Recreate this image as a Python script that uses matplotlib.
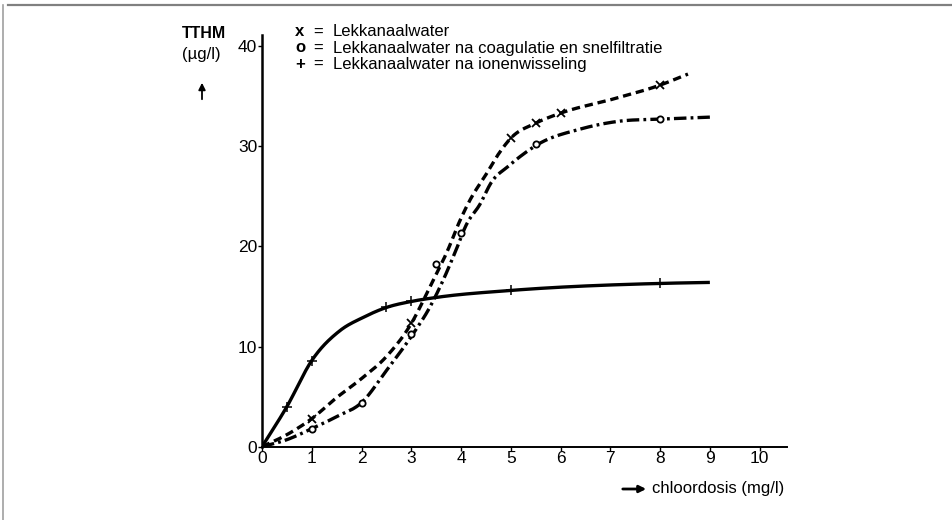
import numpy as np
import matplotlib
matplotlib.use("Agg")
import matplotlib.pyplot as plt
from matplotlib.lines import Line2D
from matplotlib.patches import FancyArrowPatch

plt.rcParams['font.family'] = ['Liberation Sans', 'DejaVu Sans']
plt.rcParams['lines.scale_dashes'] = False

# --- measured points (chlorine dose mg/l -> TTHM ug/l) ---
raw_dose = [1, 3, 5, 5.5, 6, 8]
raw_tthm = [2.8, 12.3, 30.8, 32.3, 33.3, 36.1]

coag_dose = [1, 2, 3, 3.5, 4, 5.5, 8]
coag_tthm = [1.8, 4.4, 11.3, 18.2, 21.3, 30.2, 32.7]

ion_dose = [0.5, 1, 2.5, 3, 5, 8]
ion_tthm = [4.0, 8.6, 13.9, 14.5, 15.6, 16.3]

# --- fitted curves through the measurements ---
raw_curve_dose = [0, 0.5, 1, 1.5, 2, 2.5, 3.0, 3.37, 3.74, 3.98, 4.21, 4.48, 4.75, 5.0, 5.5, 6.0, 7.05, 8.0, 8.56]
raw_curve_tthm = [0, 1.2, 2.8, 4.9, 6.8, 9.0, 12.3, 15.9, 19.7, 22.6, 24.9, 27.0, 29.2, 30.8, 32.3, 33.3, 34.7, 36.1, 37.2]

coag_curve_dose = [0, 0.5, 1, 1.5, 2, 2.5, 3.04, 3.37, 3.61, 3.88, 4.11, 4.38, 4.61, 4.95, 5.25, 5.55, 6.39, 7.19, 8.0, 9.0]
coag_curve_tthm = [0, 0.7, 1.8, 3.0, 4.4, 7.6, 11.3, 13.9, 16.3, 19.4, 22.2, 24.2, 26.4, 28.0, 29.2, 30.2, 31.7, 32.5, 32.7, 32.9]

ion_curve_dose = [0, 0.5, 1, 1.57, 2.03, 2.5, 3, 3.5, 5, 8, 9]
ion_curve_tthm = [0, 4.0, 8.6, 11.6, 12.9, 13.9, 14.5, 14.9, 15.6, 16.3, 16.4]

x_ticks = [0, 1, 2, 3, 4, 5, 6, 7, 8, 9, 10]
y_ticks = [0, 10, 20, 30, 40]

legend_entries = [
    ("x", "Lekkanaalwater"),
    ("o", "Lekkanaalwater na coagulatie en snelfiltratie"),
    ("+", "Lekkanaalwater na ionenwisseling"),
]


def smooth(xs, ys, n=400):
    """Cubic Hermite curve with three-point (parabolic) slopes."""
    x = np.asarray(xs, float)
    y = np.asarray(ys, float)
    h = np.diff(x)
    d = np.diff(y) / h
    m = np.zeros_like(x)
    m[0], m[-1] = d[0], d[-1]
    for i in range(1, len(x) - 1):
        m[i] = (h[i] * d[i - 1] + h[i - 1] * d[i]) / (h[i - 1] + h[i])
    xx = np.linspace(x[0], x[-1], n)
    idx = np.clip(np.searchsorted(x, xx) - 1, 0, len(x) - 2)
    t = (xx - x[idx]) / h[idx]
    h00 = 2 * t**3 - 3 * t**2 + 1
    h10 = t**3 - 2 * t**2 + t
    h01 = -2 * t**3 + 3 * t**2
    h11 = t**3 - t**2
    yy = h00 * y[idx] + h10 * h[idx] * m[idx] + h01 * y[idx + 1] + h11 * h[idx] * m[idx + 1]
    return xx, yy


fig = plt.figure(figsize=(9.52, 5.2), dpi=100)
ax = fig.add_axes([262 / 952, 1 - 446.7 / 520, (787 - 262) / 952, (446.7 - 35) / 520])

lw = 2.4
xx, yy = smooth(raw_curve_dose, raw_curve_tthm)
ax.plot(xx, yy, color='black', lw=lw, linestyle=(0, (6, 3.5)), dash_capstyle='butt')
xx, yy = smooth(coag_curve_dose, coag_curve_tthm)
ax.plot(xx, yy, color='black', lw=lw, linestyle=(0, (9, 3, 2, 3)), dash_capstyle='butt')
xx, yy = smooth(ion_curve_dose, ion_curve_tthm)
ax.plot(xx, yy, color='black', lw=lw, solid_capstyle='butt')

ax.plot(raw_dose, raw_tthm, linestyle='none', marker='x', ms=5.5, mew=1.3, color='black')
ax.plot(coag_dose, coag_tthm, linestyle='none', marker='o', ms=4.5, mew=1.3,
        mfc='white', mec='black')
ax.plot(ion_dose, ion_tthm, linestyle='none', marker='+', ms=7, mew=1.1, color='black')

ax.set_xlim(0, 10.55)
ax.set_ylim(0, 41.1)
ax.set_xticks(x_ticks)
ax.set_yticks(y_ticks)
ax.set_xticklabels([str(v) for v in x_ticks], fontsize=12.5)
ax.set_yticklabels([str(v) for v in y_ticks], fontsize=12.5)
ax.tick_params(axis='x', direction='out', length=3, width=1, pad=0)
ax.tick_params(axis='y', direction='out', length=3, width=1, pad=0.5)
for s in ('top', 'right'):
    ax.spines[s].set_visible(False)
ax.spines['left'].set_linewidth(1.8)
ax.spines['bottom'].set_linewidth(1.4)
ax.patch.set_alpha(0)

# axis captions
fig.text(182 / 952, 1 - 33 / 520, "TTHM", fontsize=11.5, fontweight='bold', va='center', ha='left')
fig.text(182 / 952, 1 - 54 / 520, "(\u00b5g/l)", fontsize=12, va='center', ha='left')
fig.add_artist(FancyArrowPatch(
    (202 / 952, 1 - 102 / 520), (202 / 952, 1 - 80 / 520),
    transform=fig.transFigure, arrowstyle='-|>', mutation_scale=10, lw=1.3, color='black'))

fig.add_artist(FancyArrowPatch(
    (620 / 952, 1 - 489 / 520), (649 / 952, 1 - 489 / 520),
    transform=fig.transFigure, arrowstyle='-|>', mutation_scale=10, lw=2.0, color='black'))
fig.text(652 / 952, 1 - 489 / 520, "chloordosis (mg/l)", fontsize=12, va='center', ha='left')

# key
for i, (sym, label) in enumerate(legend_entries):
    yk = 1 - (32 + 16 * i) / 520
    fig.text(300 / 952, yk, sym, fontsize=12, fontweight='bold', va='center', ha='center')
    fig.text(313 / 952, yk, "=", fontsize=12, va='center', ha='left')
    fig.text(333 / 952, yk, label, fontsize=12, va='center', ha='left')

# page border
fig.add_artist(Line2D([8 / 952, 1], [1 - 5 / 520, 1 - 5 / 520], transform=fig.transFigure,
                      color='#808080', lw=1.6))
fig.add_artist(Line2D([3 / 952, 3 / 952], [0, 1 - 5 / 520], transform=fig.transFigure,
                      color='#a0a0a0', lw=1.2))

fig.savefig("out.png", dpi=100, facecolor='white')
